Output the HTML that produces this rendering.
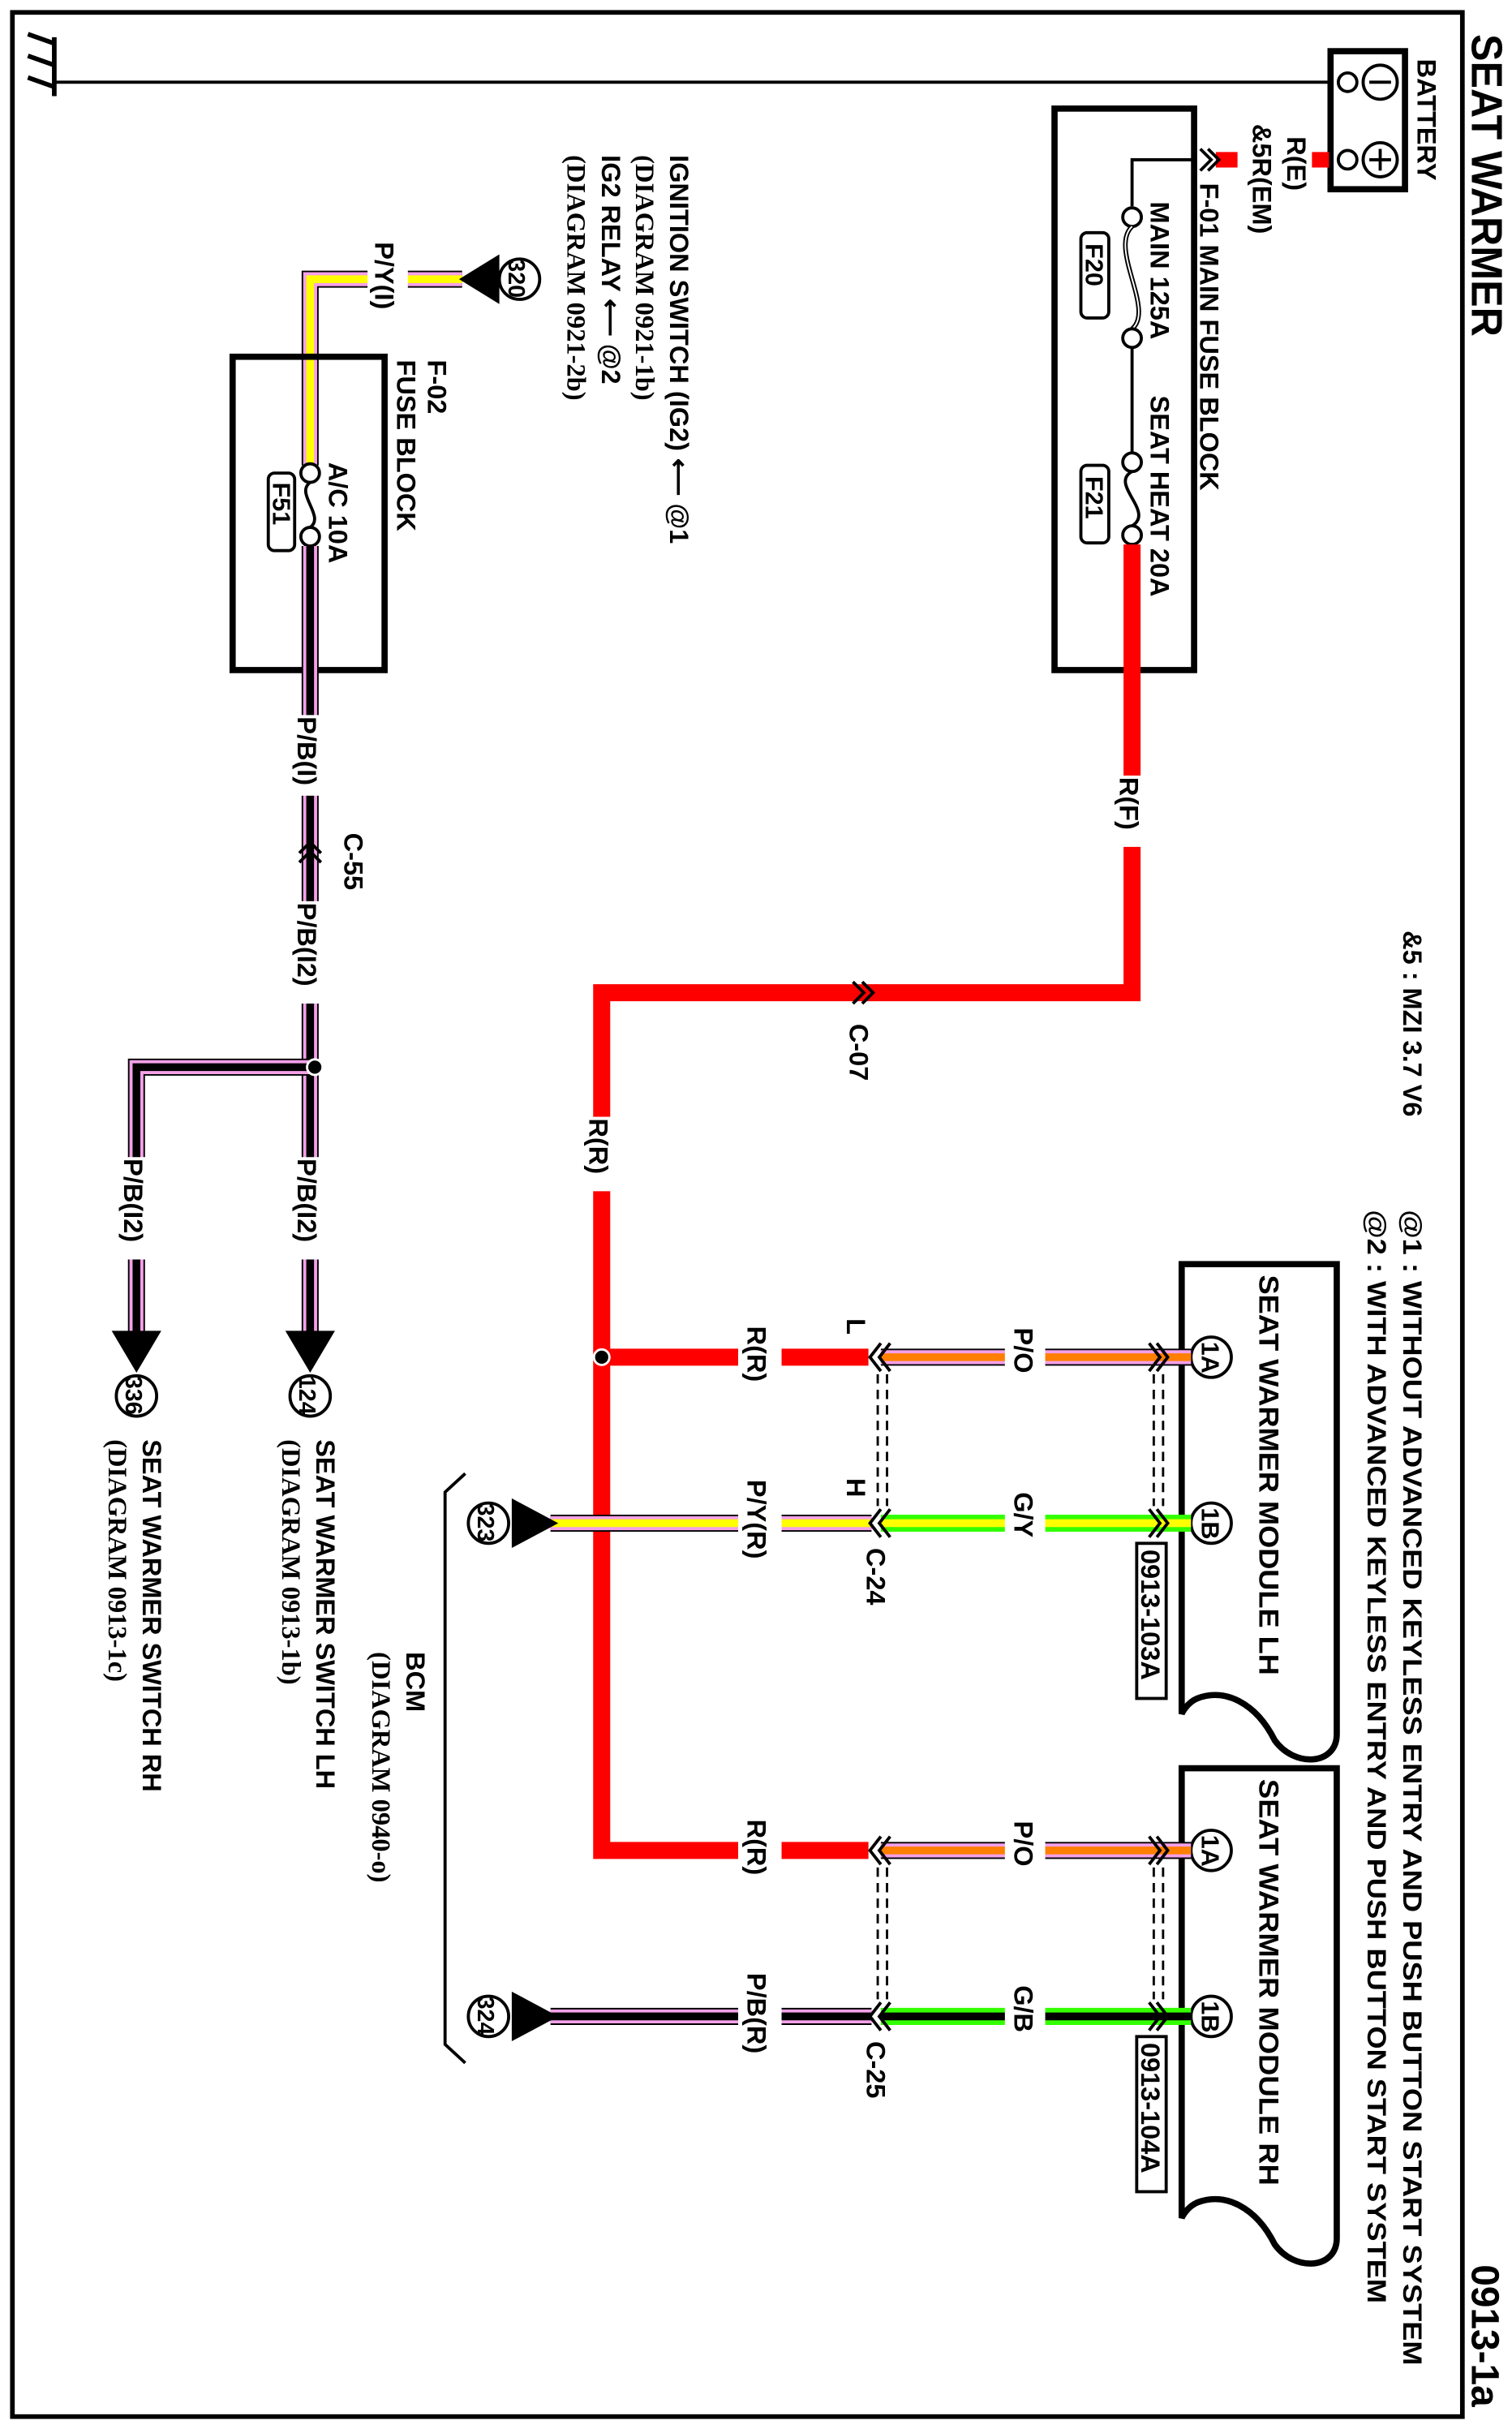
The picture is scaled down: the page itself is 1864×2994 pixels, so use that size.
<!DOCTYPE html>
<html><head><meta charset="utf-8"><style>
html,body{margin:0;padding:0;background:#fff}
svg{display:block}
text{font-family:"Liberation Sans Narrow","Liberation Sans",sans-serif;fill:#000;font-weight:bold}
.s{font-family:"Liberation Serif",serif;font-weight:bold}
</style></head><body>
<svg width="1864" height="2994" viewBox="0 0 975 1566" preserveAspectRatio="none" xmlns="http://www.w3.org/2000/svg">
<rect x="0" y="0" width="975" height="1566" fill="#fff"/>
<rect x="8" y="8" width="935" height="1550" fill="none" stroke="#000" stroke-width="3"/>
<text x="949" y="22" font-size="28" font-weight="normal" textLength="195" lengthAdjust="spacingAndGlyphs" transform="rotate(90 949 22)">SEAT WARMER</text>
<text x="949" y="1460" font-size="25" font-weight="normal" transform="rotate(90 949 1460)">0913-1a</text>

<line x1="35" y1="53" x2="858" y2="53" stroke="#000" stroke-width="2"/>
<line x1="35" y1="24" x2="35" y2="62" stroke="#000" stroke-width="3"/>
<line x1="35" y1="28" x2="18" y2="22" stroke="#000" stroke-width="3"/>
<line x1="35" y1="42" x2="18" y2="36" stroke="#000" stroke-width="3"/>
<line x1="35" y1="56" x2="18" y2="50" stroke="#000" stroke-width="3"/>

<rect x="858" y="33" width="48" height="89" fill="#fff" stroke="#000" stroke-width="4"/>
<circle cx="869" cy="53" r="6" fill="#fff" stroke="#000" stroke-width="2"/>
<circle cx="869" cy="103" r="6" fill="#fff" stroke="#000" stroke-width="2"/>
<circle cx="890" cy="53" r="11" fill="#fff" stroke="#000" stroke-width="2"/>
<line x1="883" y1="53" x2="897" y2="53" stroke="#000" stroke-width="2"/>
<circle cx="890" cy="103" r="11" fill="#fff" stroke="#000" stroke-width="2"/>
<line x1="883" y1="103" x2="897" y2="103" stroke="#000" stroke-width="2"/>
<line x1="890" y1="96" x2="890" y2="110" stroke="#000" stroke-width="2"/>
<text x="914" y="38" font-size="17" transform="rotate(90 914 38)">BATTERY</text>
<line x1="846" y1="103" x2="857" y2="103" stroke="#f00" stroke-width="10"/>
<line x1="784" y1="103" x2="798" y2="103" stroke="#f00" stroke-width="10"/>
<text x="830" y="88" font-size="17" transform="rotate(90 830 88)">R(E)</text>
<text x="808" y="80" font-size="17" transform="rotate(90 808 80)">&amp;5R(EM)</text>

<rect x="680" y="70" width="90" height="362" fill="none" stroke="#000" stroke-width="4"/>
<polyline points="774,96 781,103 774,110" fill="none" stroke="#000" stroke-width="2"/>
<polyline points="779,96 786,103 779,110" fill="none" stroke="#000" stroke-width="2"/>
<text x="774" y="118" font-size="17" transform="rotate(90 774 118)">F-01 MAIN FUSE BLOCK</text>
<polyline points="770,103 730,103 730,133" fill="none" stroke="#000" stroke-width="2"/>
<circle cx="730" cy="140" r="6" fill="#fff" stroke="#000" stroke-width="2"/>
<path d="M730 146 C715 160,745 200,730 212" fill="none" stroke="#000" stroke-width="3"/>
<path d="M730 146 C715 160,745 200,730 212" fill="none" stroke="#fff" stroke-width="1"/>
<circle cx="730" cy="218" r="6" fill="#fff" stroke="#000" stroke-width="2"/>
<line x1="730" y1="224" x2="730" y2="292" stroke="#000" stroke-width="2"/>
<circle cx="730" cy="298" r="6" fill="#fff" stroke="#000" stroke-width="2"/>
<path d="M730 304 C715 312,745 330,730 339" fill="none" stroke="#000" stroke-width="2"/>
<circle cx="730" cy="345" r="6" fill="#fff" stroke="#000" stroke-width="2"/>
<text x="742" y="130" font-size="17" transform="rotate(90 742 130)">MAIN 125A</text>
<text x="742" y="255" font-size="17" transform="rotate(90 742 255)">SEAT HEAT 20A</text>
<rect x="697" y="150" width="18" height="55" rx="4" fill="none" stroke="#000" stroke-width="2"/>
<text x="700" y="157" font-size="16" transform="rotate(90 700 157)">F20</text>
<rect x="697" y="300" width="18" height="50" rx="4" fill="none" stroke="#000" stroke-width="2"/>
<text x="700" y="307" font-size="16" transform="rotate(90 700 307)">F21</text>

<polyline points="730,351 730,640 388,640 388,1193 560,1193" fill="none" stroke="#f00" stroke-width="11"/>
<line x1="388" y1="875" x2="560" y2="875" stroke="#f00" stroke-width="11"/>
<rect x="716" y="500" width="28" height="46" fill="#fff"/>
<text x="722" y="501" font-size="17" transform="rotate(90 722 501)">R(F)</text>
<polyline points="550,633 557,640 550,647" fill="none" stroke="#000" stroke-width="2"/>
<polyline points="556,633 563,640 556,647" fill="none" stroke="#000" stroke-width="2"/>
<text x="548" y="660" font-size="17" transform="rotate(90 548 660)">C-07</text>
<rect x="374" y="720" width="28" height="48" fill="#fff"/>
<text x="380" y="721" font-size="17" transform="rotate(90 380 721)">R(R)</text>
<circle cx="388" cy="875" r="5" fill="#000" stroke="#fff" stroke-width="1.5"/>
<rect x="476" y="854" width="28" height="42" fill="#fff"/>
<text x="482" y="855" font-size="17" transform="rotate(90 482 855)">R(R)</text>
<rect x="476" y="1172" width="28" height="42" fill="#fff"/>
<text x="482" y="1173" font-size="17" transform="rotate(90 482 1173)">R(R)</text>

<text x="905" y="600" font-size="17" transform="rotate(90 905 600)">&amp;5 : MZI 3.7 V6</text>
<text x="905" y="780" font-size="17" textLength="745" lengthAdjust="spacingAndGlyphs" transform="rotate(90 905 780)">@1 : WITHOUT ADVANCED KEYLESS ENTRY AND PUSH BUTTON START SYSTEM</text>
<text x="882" y="780" font-size="17" textLength="705" lengthAdjust="spacingAndGlyphs" transform="rotate(90 882 780)">@2 : WITH ADVANCED KEYLESS ENTRY AND PUSH BUTTON START SYSTEM</text>

<path d="M762 1105 V815 H862 V1118 C862 1138 835 1140 822 1122 C810 1098 790 1088 772 1095 C765 1098 762 1105 762 1105 Z" fill="#fff" stroke="#000" stroke-width="4"/>
<text x="812" y="822" font-size="18" textLength="258" lengthAdjust="spacingAndGlyphs" transform="rotate(90 812 822)">SEAT WARMER MODULE LH</text>
<circle cx="781" cy="875" r="13" fill="#fff" stroke="#000" stroke-width="2"/>
<text x="775" y="865" font-size="16" transform="rotate(90 775 865)">1A</text>
<circle cx="781" cy="982" r="13" fill="#fff" stroke="#000" stroke-width="2"/>
<text x="775" y="972" font-size="16" transform="rotate(90 775 972)">1B</text>
<rect x="733" y="995" width="19" height="100" fill="#fff" stroke="#000" stroke-width="2"/>
<text x="736" y="999" font-size="17" transform="rotate(90 736 999)">0913-103A</text>

<path d="M762 1430 V1140 H862 V1443 C862 1463 835 1465 822 1447 C810 1423 790 1413 772 1420 C765 1423 762 1430 762 1430 Z" fill="#fff" stroke="#000" stroke-width="4"/>
<text x="812" y="1147" font-size="18" textLength="262" lengthAdjust="spacingAndGlyphs" transform="rotate(90 812 1147)">SEAT WARMER MODULE RH</text>
<circle cx="781" cy="1193" r="13" fill="#fff" stroke="#000" stroke-width="2"/>
<text x="775" y="1183" font-size="16" transform="rotate(90 775 1183)">1A</text>
<circle cx="781" cy="1300" r="13" fill="#fff" stroke="#000" stroke-width="2"/>
<text x="775" y="1290" font-size="16" transform="rotate(90 775 1290)">1B</text>
<rect x="733" y="1313" width="19" height="100" fill="#fff" stroke="#000" stroke-width="2"/>
<text x="736" y="1317" font-size="17" transform="rotate(90 736 1317)">0913-104A</text>

<g>
<line x1="568" y1="875" x2="768" y2="875" stroke="#000" stroke-width="11"/>
<line x1="568" y1="875" x2="768" y2="875" stroke="#f4a0e8" stroke-width="9"/>
<line x1="568" y1="875" x2="768" y2="875" stroke="#ff7f00" stroke-width="5"/>
<line x1="568" y1="1193" x2="768" y2="1193" stroke="#000" stroke-width="11"/>
<line x1="568" y1="1193" x2="768" y2="1193" stroke="#f4a0e8" stroke-width="9"/>
<line x1="568" y1="1193" x2="768" y2="1193" stroke="#ff7f00" stroke-width="5"/>
<line x1="568" y1="982" x2="768" y2="982" stroke="#33ff00" stroke-width="11"/>
<line x1="568" y1="982" x2="768" y2="982" stroke="#ffff00" stroke-width="5"/>
<line x1="568" y1="1300" x2="768" y2="1300" stroke="#33ff00" stroke-width="11"/>
<line x1="568" y1="1300" x2="768" y2="1300" stroke="#000" stroke-width="5"/>
<line x1="355" y1="982" x2="562" y2="982" stroke="#000" stroke-width="11"/>
<line x1="355" y1="982" x2="562" y2="982" stroke="#f4a0e8" stroke-width="9"/>
<line x1="355" y1="982" x2="562" y2="982" stroke="#ffff00" stroke-width="5"/>
<line x1="355" y1="1300" x2="562" y2="1300" stroke="#000" stroke-width="11"/>
<line x1="355" y1="1300" x2="562" y2="1300" stroke="#f4a0e8" stroke-width="9"/>
<line x1="355" y1="1300" x2="562" y2="1300" stroke="#000" stroke-width="5"/>
</g>
<rect x="648" y="854" width="26" height="40" fill="#fff"/>
<text x="654" y="856" font-size="17" transform="rotate(90 654 856)">P/O</text>
<rect x="648" y="1172" width="26" height="40" fill="#fff"/>
<text x="654" y="1174" font-size="17" transform="rotate(90 654 1174)">P/O</text>
<rect x="648" y="961" width="26" height="40" fill="#fff"/>
<text x="654" y="962" font-size="17" transform="rotate(90 654 962)">G/Y</text>
<rect x="648" y="1279" width="26" height="40" fill="#fff"/>
<text x="654" y="1280" font-size="17" transform="rotate(90 654 1280)">G/B</text>
<rect x="476" y="953" width="28" height="58" fill="#fff"/>
<text x="482" y="954" font-size="17" transform="rotate(90 482 954)">P/Y(R)</text>
<rect x="476" y="1271" width="28" height="58" fill="#fff"/>
<text x="482" y="1272" font-size="17" transform="rotate(90 482 1272)">P/B(R)</text>
<text x="546" y="850" font-size="17" transform="rotate(90 546 850)">L</text>
<text x="546" y="953" font-size="17" transform="rotate(90 546 953)">H</text>
<text x="559" y="998" font-size="17" transform="rotate(90 559 998)">C-24</text>
<text x="559" y="1316" font-size="17" transform="rotate(90 559 1316)">C-25</text>

<g fill="none" stroke="#000" stroke-width="2">
<polyline points="568,866 561,875 568,884"/><polyline points="574,866 567,875 574,884"/>
<polyline points="568,973 561,982 568,991"/><polyline points="574,973 567,982 574,991"/>
<polyline points="568,1184 561,1193 568,1202"/><polyline points="574,1184 567,1193 574,1202"/>
<polyline points="568,1291 561,1300 568,1309"/><polyline points="574,1291 567,1300 574,1309"/>
<polyline points="741,866 748,875 741,884"/><polyline points="746,866 753,875 746,884"/>
<polyline points="741,973 748,982 741,991"/><polyline points="746,973 753,982 746,991"/>
<polyline points="741,1184 748,1193 741,1202"/><polyline points="746,1184 753,1193 746,1202"/>
<polyline points="741,1291 748,1300 741,1309"/><polyline points="746,1291 753,1300 746,1309"/>
</g>
<g stroke="#000" stroke-width="1.5" stroke-dasharray="6,4">
<line x1="566" y1="886" x2="566" y2="971"/><line x1="572" y1="886" x2="572" y2="971"/>
<line x1="744" y1="886" x2="744" y2="971"/><line x1="750" y1="886" x2="750" y2="971"/>
<line x1="566" y1="1204" x2="566" y2="1289"/><line x1="572" y1="1204" x2="572" y2="1289"/>
<line x1="744" y1="1204" x2="744" y2="1289"/><line x1="750" y1="1204" x2="750" y2="1289"/>
</g>

<polygon points="330,966 330,998 360,982" fill="#000"/>
<circle cx="315" cy="982" r="13" fill="#fff" stroke="#000" stroke-width="2"/>
<text x="308" y="969" font-size="15" transform="rotate(90 308 969)">323</text>
<polygon points="330,1284 330,1316 360,1300" fill="#000"/>
<circle cx="315" cy="1300" r="13" fill="#fff" stroke="#000" stroke-width="2"/>
<text x="308" y="1287" font-size="15" transform="rotate(90 308 1287)">324</text>
<path d="M300 950 L287 962 V1318 L300 1330" fill="none" stroke="#000" stroke-width="2"/>
<text x="262" y="1065" font-size="17" transform="rotate(90 262 1065)">BCM</text>
<text x="240" y="1065" class="s" font-size="17" transform="rotate(90 240 1065)">(DIAGRAM 0940-o)</text>

<text x="432" y="100" font-size="17" transform="rotate(90 432 100)">IGNITION SWITCH (IG2) ⟵ @1</text>
<text x="410" y="100" class="s" font-size="17" transform="rotate(90 410 100)">(DIAGRAM 0921-1b)</text>
<text x="388" y="100" font-size="17" transform="rotate(90 388 100)">IG2 RELAY ⟵ @2</text>
<text x="366" y="100" class="s" font-size="17" transform="rotate(90 366 100)">(DIAGRAM 0921-2b)</text>
<circle cx="335" cy="180" r="13" fill="#fff" stroke="#000" stroke-width="2"/>
<text x="328" y="167" font-size="15" transform="rotate(90 328 167)">320</text>
<polyline points="298,180 200,180 200,300" fill="none" stroke="#000" stroke-width="11"/>
<polyline points="298,180 200,180 200,300" fill="none" stroke="#f4a0e8" stroke-width="9"/>
<polyline points="298,180 200,180 200,300" fill="none" stroke="#ffff00" stroke-width="5"/>
<polygon points="322,164 322,196 296,180" fill="#000"/>
<rect x="237" y="156" width="26" height="50" fill="#fff"/>
<text x="242" y="156" font-size="17" transform="rotate(90 242 156)">P/Y(I)</text>

<rect x="150" y="230" width="98" height="202" fill="none" stroke="#000" stroke-width="4"/>
<text x="276" y="232" font-size="17" transform="rotate(90 276 232)">F-02</text>
<text x="256" y="232" font-size="17" transform="rotate(90 256 232)">FUSE BLOCK</text>
<circle cx="200" cy="305" r="6" fill="#fff" stroke="#000" stroke-width="2"/>
<path d="M200 311 C190 318,210 333,200 340" fill="none" stroke="#000" stroke-width="2"/>
<circle cx="200" cy="346" r="6" fill="#fff" stroke="#000" stroke-width="2"/>
<text x="212" y="298" font-size="17" transform="rotate(90 212 298)">A/C 10A</text>
<rect x="173" y="305" width="17" height="50" rx="4" fill="none" stroke="#000" stroke-width="2"/>
<text x="176" y="311" font-size="16" transform="rotate(90 176 311)">F51</text>

<g fill="none">
<polyline points="200,352 200,862" stroke="#000" stroke-width="11"/>
<polyline points="200,352 200,862" stroke="#f4a0e8" stroke-width="9"/>
<polyline points="200,352 200,862" stroke="#000" stroke-width="5"/>
<polyline points="200,688 88,688 88,862" stroke="#000" stroke-width="11"/>
<polyline points="200,688 88,688 88,862" stroke="#f4a0e8" stroke-width="9"/>
<polyline points="200,688 88,688 88,862" stroke="#000" stroke-width="5"/>
</g>
<circle cx="203" cy="688" r="5" fill="#000" stroke="#fff" stroke-width="1.5"/>
<rect x="186" y="461" width="28" height="52" fill="#fff"/>
<text x="192" y="462" font-size="17" transform="rotate(90 192 462)">P/B(I)</text>
<polyline points="193,550 200,543 207,550" fill="none" stroke="#000" stroke-width="2"/>
<polyline points="193,556 200,549 207,556" fill="none" stroke="#000" stroke-width="2"/>
<text x="222" y="537" font-size="17" transform="rotate(90 222 537)">C-55</text>
<rect x="186" y="581" width="28" height="66" fill="#fff"/>
<text x="192" y="582" font-size="17" transform="rotate(90 192 582)">P/B(I2)</text>
<rect x="186" y="746" width="28" height="66" fill="#fff"/>
<text x="192" y="747" font-size="17" transform="rotate(90 192 747)">P/B(I2)</text>
<rect x="74" y="746" width="28" height="66" fill="#fff"/>
<text x="80" y="747" font-size="17" transform="rotate(90 80 747)">P/B(I2)</text>
<polygon points="184,858 216,858 200,885" fill="#000"/>
<polygon points="72,858 104,858 88,885" fill="#000"/>
<circle cx="200" cy="900" r="13" fill="#fff" stroke="#000" stroke-width="2"/>
<text x="193" y="887" font-size="15" transform="rotate(90 193 887)">124</text>
<circle cx="88" cy="900" r="13" fill="#fff" stroke="#000" stroke-width="2"/>
<text x="81" y="887" font-size="15" transform="rotate(90 81 887)">336</text>
<text x="204" y="928" font-size="17" transform="rotate(90 204 928)">SEAT WARMER SWITCH LH</text>
<text x="182" y="928" class="s" font-size="17" transform="rotate(90 182 928)">(DIAGRAM 0913-1b)</text>
<text x="92" y="928" font-size="17" transform="rotate(90 92 928)">SEAT WARMER SWITCH RH</text>
<text x="70" y="928" class="s" font-size="17" transform="rotate(90 70 928)">(DIAGRAM 0913-1c)</text>
</svg>
</body></html>
